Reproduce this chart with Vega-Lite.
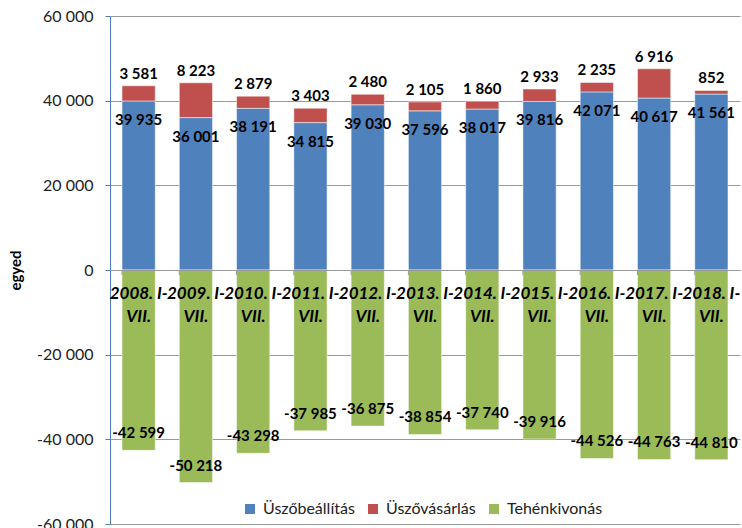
{
  "$schema": "https://vega.github.io/schema/vega-lite/v6.json",
  "width": 630,
  "height": 508,
  "autosize": {"type": "none"},
  "padding": {"left": 110, "top": 16, "right": 2, "bottom": 4},
  "background": "white",
  "config": {
    "view": {"stroke": null},
    "font": "Lato",
    "locale": {"number": {"decimal": ",", "thousands": " ", "grouping": [3], "currency": ["", ""], "minus": "-"}}
  },
  "data": {
    "values": [
      {"period": "2008. I-VII.", "series": "Üszőbeállítás", "value": 39935},
      {"period": "2008. I-VII.", "series": "Üszővásárlás", "value": 3581},
      {"period": "2008. I-VII.", "series": "Tehénkivonás", "value": -42599},
      {"period": "2009. I-VII.", "series": "Üszőbeállítás", "value": 36001},
      {"period": "2009. I-VII.", "series": "Üszővásárlás", "value": 8223},
      {"period": "2009. I-VII.", "series": "Tehénkivonás", "value": -50218},
      {"period": "2010. I-VII.", "series": "Üszőbeállítás", "value": 38191},
      {"period": "2010. I-VII.", "series": "Üszővásárlás", "value": 2879},
      {"period": "2010. I-VII.", "series": "Tehénkivonás", "value": -43298},
      {"period": "2011. I-VII.", "series": "Üszőbeállítás", "value": 34815},
      {"period": "2011. I-VII.", "series": "Üszővásárlás", "value": 3403},
      {"period": "2011. I-VII.", "series": "Tehénkivonás", "value": -37985},
      {"period": "2012. I-VII.", "series": "Üszőbeállítás", "value": 39030},
      {"period": "2012. I-VII.", "series": "Üszővásárlás", "value": 2480},
      {"period": "2012. I-VII.", "series": "Tehénkivonás", "value": -36875},
      {"period": "2013. I-VII.", "series": "Üszőbeállítás", "value": 37596},
      {"period": "2013. I-VII.", "series": "Üszővásárlás", "value": 2105},
      {"period": "2013. I-VII.", "series": "Tehénkivonás", "value": -38854},
      {"period": "2014. I-VII.", "series": "Üszőbeállítás", "value": 38017},
      {"period": "2014. I-VII.", "series": "Üszővásárlás", "value": 1860},
      {"period": "2014. I-VII.", "series": "Tehénkivonás", "value": -37740},
      {"period": "2015. I-VII.", "series": "Üszőbeállítás", "value": 39816},
      {"period": "2015. I-VII.", "series": "Üszővásárlás", "value": 2933},
      {"period": "2015. I-VII.", "series": "Tehénkivonás", "value": -39916},
      {"period": "2016. I-VII.", "series": "Üszőbeállítás", "value": 42071},
      {"period": "2016. I-VII.", "series": "Üszővásárlás", "value": 2235},
      {"period": "2016. I-VII.", "series": "Tehénkivonás", "value": -44526},
      {"period": "2017. I-VII.", "series": "Üszőbeállítás", "value": 40617},
      {"period": "2017. I-VII.", "series": "Üszővásárlás", "value": 6916},
      {"period": "2017. I-VII.", "series": "Tehénkivonás", "value": -44763},
      {"period": "2018. I-VII.", "series": "Üszőbeállítás", "value": 41561},
      {"period": "2018. I-VII.", "series": "Üszővásárlás", "value": 852},
      {"period": "2018. I-VII.", "series": "Tehénkivonás", "value": -44810}
    ]
  },
  "encoding": {
    "x": {
      "field": "period", "type": "nominal", "sort": null,
      "scale": {"paddingInner": 0.42, "paddingOuter": 0.21},
      "axis": {
        "title": null, "orient": "bottom", "offset": -254,
        "labelExpr": "[replace(datum.label, 'VII.', ''), 'VII.']",
        "labelFont": "Lato", "labelFontWeight": "bold", "labelFontStyle": "italic",
        "labelFontSize": 17, "labelColor": "#000000", "labelAngle": 0, "labelAlign": "center",
        "labelPadding": 15, "labelLineHeight": 23, "labelOverlap": false,
        "labelBound": false, "labelFlush": false, "labelLimit": 0,
        "ticks": false, "domainColor": "#999999", "zindex": 1
      }
    }
  },
  "layer": [
    {
      "mark": {"type": "bar", "stroke": "#ffffff", "strokeWidth": 0.5},
      "encoding": {
        "y": {
          "field": "value", "type": "quantitative", "stack": "zero",
          "scale": {"domain": [-60000, 60000], "nice": false},
          "axis": {
            "title": "egyed",
            "values": [-60000, -40000, -20000, 0, 20000, 40000, 60000],
            "format": ",d", "labelFont": "Lato", "labelFontSize": 16, "labelColor": "#222222",
            "labelPadding": 12, "tickSize": 5, "tickColor": "#4a7ebb", "domainColor": "#4a7ebb",
            "grid": true, "gridColor": "#999999",
            "titleFont": "Lato", "titleFontSize": 15, "titleFontWeight": "bold", "titleColor": "#000000",
            "titleX": -95, "titleY": 254, "titleAngle": -90, "titleBaseline": "middle"
          }
        },
        "color": {
          "field": "series", "type": "nominal",
          "scale": {"domain": ["Üszőbeállítás", "Üszővásárlás", "Tehénkivonás"], "range": ["#4f81bd", "#c0504d", "#9bbb59"]},
          "legend": {
            "title": null, "orient": "none", "legendX": 132, "legendY": 485,
            "direction": "horizontal", "symbolType": "square", "symbolSize": 100,
            "symbolStrokeWidth": 0, "labelFont": "Lato", "labelFontSize": 16,
            "labelColor": "#222222", "labelOffset": 5, "columnPadding": 10, "padding": 0
          }
        },
        "order": {"field": "series", "type": "ordinal", "sort": "ascending"}
      }
    },
    {
      "transform": [{"filter": "datum.series === 'Üszőbeállítás'"}],
      "mark": {"type": "rule", "color": "#999999", "strokeWidth": 1},
      "encoding": {
        "x": {"field": "period", "type": "nominal", "sort": null, "bandPosition": 0},
        "y": {"datum": 0},
        "y2": {"datum": -1200}
      }
    },
    {
      "transform": [
        {"stack": "value", "groupby": ["period"], "sort": [{"field": "series", "order": "ascending"}], "as": ["v0", "v1"]},
        {"filter": "datum.series === 'Üszőbeállítás'"}
      ],
      "mark": {"type": "text", "font": "Lato", "fontWeight": "bold", "fontSize": 15, "dy": 19, "color": "#000000"},
      "encoding": {
        "y": {"field": "v1", "type": "quantitative", "title": "egyed"},
        "text": {"field": "value", "type": "quantitative", "format": ",d"}
      }
    },
    {
      "transform": [
        {"stack": "value", "groupby": ["period"], "sort": [{"field": "series", "order": "ascending"}], "as": ["v0", "v1"]},
        {"filter": "datum.series === 'Üszővásárlás'"}
      ],
      "mark": {"type": "text", "font": "Lato", "fontWeight": "bold", "fontSize": 15, "dy": -12, "color": "#000000"},
      "encoding": {
        "y": {"field": "v1", "type": "quantitative", "title": "egyed"},
        "text": {"field": "value", "type": "quantitative", "format": ",d"}
      }
    },
    {
      "transform": [
        {"stack": "value", "groupby": ["period"], "sort": [{"field": "series", "order": "ascending"}], "as": ["v0", "v1"]},
        {"filter": "datum.series === 'Tehénkivonás'"}
      ],
      "mark": {"type": "text", "font": "Lato", "fontWeight": "bold", "fontSize": 15, "dy": -17, "color": "#000000"},
      "encoding": {
        "y": {"field": "v1", "type": "quantitative", "title": "egyed"},
        "text": {"field": "value", "type": "quantitative", "format": ",d"}
      }
    }
  ]
}
